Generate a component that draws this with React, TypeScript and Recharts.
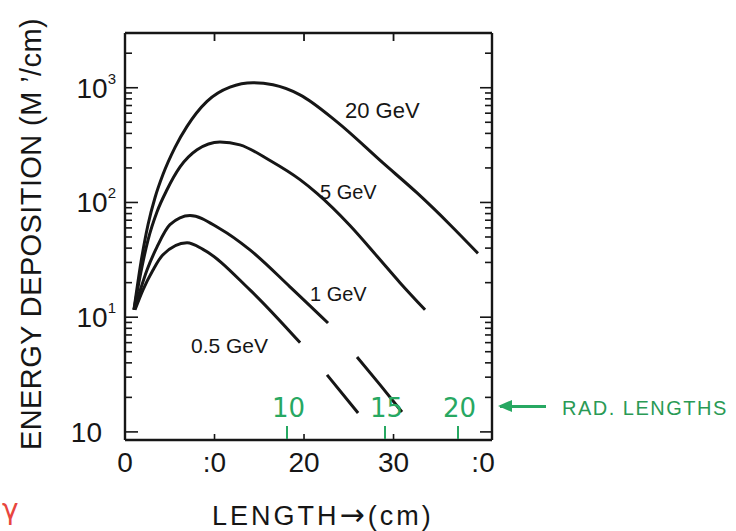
import { LineChart, Line, XAxis, YAxis } from 'recharts';

type Pt = { x: number; y: number | null };

// length along shower (cm) vs energy deposition
const gev20: Pt[] = [
    { x: 1.0, y: 11.6 }, { x: 1.78, y: 30 }, { x: 2.57, y: 64 }, { x: 3.35, y: 110 },
    { x: 4.24, y: 175 }, { x: 5.59, y: 302 }, { x: 6.93, y: 460 }, { x: 9.16, y: 760 },
    { x: 11.73, y: 1012 }, { x: 14.3, y: 1104 }, { x: 16.53, y: 1060 }, { x: 19.55, y: 867 },
    { x: 23.68, y: 504 }, { x: 28.82, y: 221 }, { x: 32.63, y: 121 }, { x: 36.31, y: 64 },
    { x: 39.43, y: 36 },
];
const gev5: Pt[] = [
    { x: 1.0, y: 11.6 }, { x: 1.78, y: 24.8 }, { x: 2.57, y: 47 }, { x: 3.58, y: 83 },
    { x: 4.69, y: 129 }, { x: 6.15, y: 204 }, { x: 8.05, y: 288 }, { x: 10.61, y: 337 },
    { x: 12.84, y: 318 }, { x: 16.2, y: 232 }, { x: 19.55, y: 158 }, { x: 21.45, y: 120 },
    { x: 25.13, y: 63 }, { x: 28.16, y: 34 }, { x: 30.72, y: 20 }, { x: 33.52, y: 11.6 },
];
const gev1: Pt[] = [
    { x: 1.0, y: 11.6 }, { x: 1.46, y: 15 }, { x: 2.46, y: 25.8 }, { x: 3.58, y: 41 },
    { x: 5.02, y: 64 }, { x: 7.26, y: 77 }, { x: 10.61, y: 59 }, { x: 13.96, y: 38.6 },
    { x: 18.43, y: 18.4 }, { x: 22.68, y: 8.9 }, { x: 24.3, y: null }, { x: 25.92, y: 4.5 },
    { x: 28.5, y: 2.57 }, { x: 30.94, y: 1.49 },
];
const gev05: Pt[] = [
    { x: 1.12, y: 11.6 }, { x: 2.01, y: 17.3 }, { x: 3.13, y: 25.8 }, { x: 4.24, y: 35 },
    { x: 6.93, y: 44.5 }, { x: 8.71, y: 39 }, { x: 13.96, y: 17.3 }, { x: 19.55, y: 6.0 },
    { x: 21.0, y: null }, { x: 22.57, y: 3.14 }, { x: 26.04, y: 1.46 },
];

const xTicks = [0, 10, 20, 30, 40];
const xLabels = ['0', ':0', '20', '30', ':0'];
const innerXTicks = [10, 20, 30];
const decades = [1, 10, 100, 1000];
const decadeBase = ['10', '10', '10', '10'];
const decadeExp = ['', '1', '2', '3'];
const yTicks = [
    1, 2, 3, 4, 5, 6, 7, 8, 9,
    10, 20, 30, 40, 50, 60, 70, 80, 90,
    100, 200, 300, 400, 500, 600, 700, 800, 900,
    1000, 2000,
];
const radLengths = ['10', '15', '20'];
const radPos = [18.1, 29.05, 37.2];

const X0 = 125, X1 = 492, Y0 = 33, Y1 = 440;
const XMAX = 41;
const ink = '#161616';
const green = '#27a862';
const font = '"Liberation Sans", Arial, sans-serif';

const BottomTick = (props: any) => {
    const { x, y, payload, index } = props;
    const v = payload.value;
    return (
        <g>
            {v > 0 && v < 40 && <line x1={x} x2={x} y1={y} y2={y - 6} stroke={ink} strokeWidth={1.6} />}
            <text x={x} y={y + 32} textAnchor="middle" fontSize={28} fontFamily={font} fill={ink}>
                {xLabels[index]}
            </text>
        </g>
    );
};

const TopTick = (props: any) => {
    const { x, y } = props;
    return <line x1={x} x2={x} y1={y} y2={y + 8} stroke={ink} strokeWidth={1.8} />;
};

const LeftTick = (props: any) => {
    const { x, y, payload } = props;
    const i = decades.indexOf(payload.value);
    const len = i >= 0 ? 13 : 7;
    return (
        <g>
            <line x1={x} x2={x + len} y1={y} y2={y} stroke={ink} strokeWidth={1.6} />
            {i >= 0 && (
                <text x={decadeExp[i] ? x - 9 : x - 23} y={y + 10} textAnchor="end" fontSize={28} fontFamily={font} fill={ink}>
                    {decadeBase[i]}
                    {decadeExp[i] && <tspan fontSize={15} dy={-14}>{decadeExp[i]}</tspan>}
                </text>
            )}
        </g>
    );
};

const RightTick = (props: any) => {
    const { x, y, payload } = props;
    const len = decades.includes(payload.value) ? 12 : 7;
    return <line x1={x} x2={x - len} y1={y} y2={y} stroke={ink} strokeWidth={1.6} />;
};

const label = (text: any, left: number, top: number, size: number, color = ink, extra: any = {}) => (
    <div style={{ position: 'absolute', left, top, fontSize: size, fontFamily: font, color, whiteSpace: 'nowrap', lineHeight: 1, ...extra }}>
        {text}
    </div>
);

export default function App() {
    const xPx = (cm: number) => X0 + (cm / XMAX) * (X1 - X0);
    return (
        <div style={{ position: 'absolute', left: 0, top: 0, width: 736, height: 531, background: '#fff', overflow: 'hidden' }}>
            <LineChart width={736} height={531} margin={{ left: X0 - 1, right: 736 - X1 - 1, top: Y0 - 1, bottom: 531 - Y1 - 1 }}>
                <XAxis xAxisId="b" dataKey="x" type="number" domain={[0, XMAX]} ticks={xTicks} allowDataOverflow
                    height={1} tickSize={0} tickMargin={0} tickLine={false} tick={<BottomTick />}
                    axisLine={{ stroke: ink, strokeWidth: 2.4 }} interval={0} />
                <XAxis xAxisId="t" orientation="top" dataKey="x" type="number" domain={[0, XMAX]} ticks={innerXTicks}
                    allowDataOverflow height={1} tickSize={0} tickMargin={0} tickLine={false} tick={<TopTick />}
                    axisLine={{ stroke: ink, strokeWidth: 2.4 }} interval={0} />
                <YAxis yAxisId="l" scale="log" type="number" domain={[0.85, 3000]} ticks={yTicks} allowDataOverflow
                    width={1} tickSize={0} tickMargin={0} tickLine={false} tick={<LeftTick />}
                    axisLine={{ stroke: ink, strokeWidth: 2.4 }} interval={0} />
                <YAxis yAxisId="r" orientation="right" scale="log" type="number" domain={[0.85, 3000]} ticks={yTicks}
                    allowDataOverflow width={1} tickSize={0} tickMargin={0} tickLine={false} tick={<RightTick />}
                    axisLine={{ stroke: ink, strokeWidth: 2.4 }} interval={0} />
                {[gev20, gev5, gev1, gev05].map((d, i) => (
                    <Line key={i} xAxisId="b" yAxisId="l" data={d} dataKey="y" type="monotone" dot={false}
                        stroke={ink} strokeWidth={3} connectNulls={false} isAnimationActive={false} />
                ))}
            </LineChart>

            {/* curve labels */}
            {label('20 GeV', 345, 100, 22)}
            {label('5 GeV', 320, 182, 20)}
            {label('1 GeV', 310, 284, 20)}
            {label('0.5 GeV', 191, 335, 21)}

            {/* axis titles */}
            {label('ENERGY DEPOSITION (M  \u2019/cm)', 31, 234, 29, ink, { letterSpacing: 0.4, transform: 'translate(-50%, -50%) rotate(-90deg)' })}
            {label(<>LENGTH<span style={{ fontFamily: '"DejaVu Sans", sans-serif', fontSize: 30 }}>{'\u2192'}</span>(cm)</>, 212, 500, 27, ink, { letterSpacing: 3 })}

            {/* handwritten radiation-length scale */}
            {radLengths.map((t, i) => (
                <div key={t}>
                    {label(t, xPx(radPos[i]) - 15, 395, 26, green, { fontFamily: '"DejaVu Sans", sans-serif' })}
                    <div style={{ position: 'absolute', left: xPx(radPos[i]) - 1, top: 426, width: 2, height: 13, background: green }} />
                </div>
            ))}
            <div style={{ position: 'absolute', left: 500, top: 405, width: 46, height: 3, background: green }} />
            <div style={{ position: 'absolute', left: 498, top: 400, width: 0, height: 0, borderTop: '6px solid transparent', borderBottom: '6px solid transparent', borderRight: `14px solid ${green}` }} />
            {label('RAD. LENGTHS', 562, 398, 20, '#2a9a55', { letterSpacing: 1.5 })}
            {label('\u03b3', 2, 496, 28, '#e8463e', { fontFamily: '"DejaVu Sans", sans-serif' })}
        </div>
    );
}
